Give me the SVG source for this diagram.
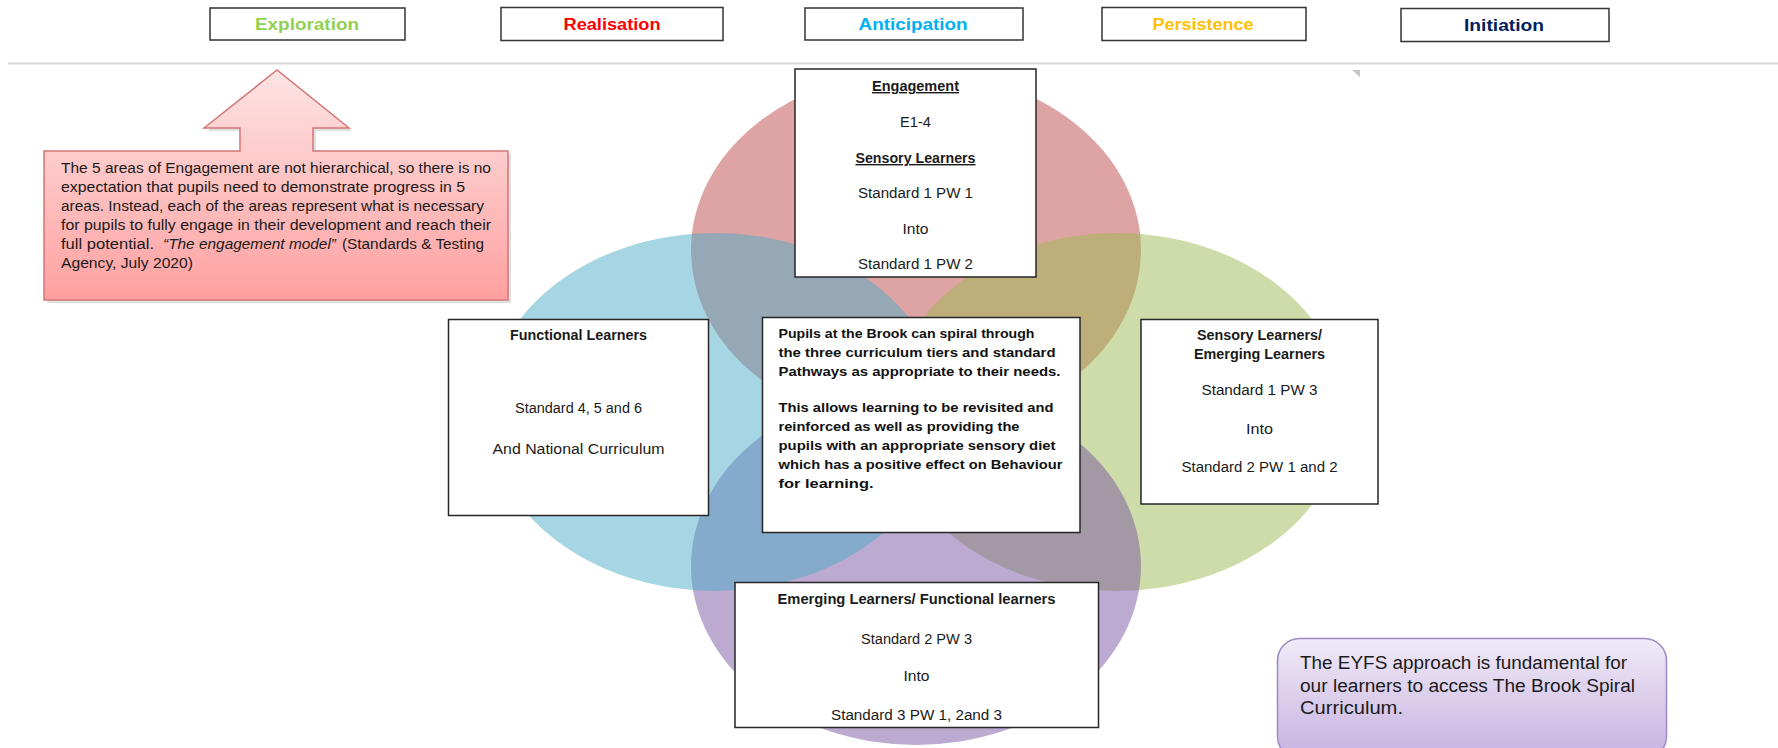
<svg xmlns="http://www.w3.org/2000/svg" width="1778" height="748" viewBox="0 0 1778 748">
<defs>
<style>
.box{fill:#ffffff;stroke:#262626;stroke-width:1.5}
.tb{fill:#ffffff;stroke:#333333;stroke-width:1.5}
.t{font-family:"Liberation Sans",Arial,sans-serif;font-size:14px;fill:#1a1a1a}
.b{font-weight:bold}
.c{text-anchor:middle}
.u{text-decoration:underline}
.lbl{font-family:"Liberation Sans",Arial,sans-serif;font-size:16px;font-weight:bold;text-anchor:middle}
.ctr{font-family:"Liberation Sans",Arial,sans-serif;font-size:13.5px;font-weight:bold;fill:#111}
.ey{font-family:"Liberation Sans",Arial,sans-serif;font-size:18px;fill:#1a1a1a}
.v{fill-opacity:0.5}
</style>
<linearGradient id="pinkGrad" x1="0" y1="0" x2="0" y2="1">
<stop offset="0" stop-color="#fde4e4"/>
<stop offset="1" stop-color="#ffa0a0"/>
</linearGradient>
<linearGradient id="lavGrad" x1="0" y1="0" x2="0" y2="1">
<stop offset="0" stop-color="#f0eaf8"/>
<stop offset="1" stop-color="#c6b2e0"/>
</linearGradient>
</defs>
<rect x="0" y="0" width="1778" height="748" fill="#ffffff"/>

<!-- top labels -->
<g id="node-exploration">
<rect class="tb" x="210" y="8" width="195" height="32"/>
<text class="lbl" x="307" y="30" fill="#92d050" textLength="104" lengthAdjust="spacingAndGlyphs">Exploration</text>
</g>
<g id="node-realisation">
<rect class="tb" x="501" y="7.5" width="222" height="33"/>
<text class="lbl" x="612" y="30" fill="#ff0000" textLength="97" lengthAdjust="spacingAndGlyphs">Realisation</text>
</g>
<g id="node-anticipation">
<rect class="tb" x="805" y="8" width="218" height="32"/>
<text class="lbl" x="913" y="30" fill="#00b0f0" textLength="109" lengthAdjust="spacingAndGlyphs">Anticipation</text>
</g>
<g id="node-persistence">
<rect class="tb" x="1102" y="7.5" width="204" height="33"/>
<text class="lbl" x="1203" y="30" fill="#ffc000" textLength="101" lengthAdjust="spacingAndGlyphs">Persistence</text>
</g>
<g id="node-initiation">
<rect class="tb" x="1401" y="8.5" width="208" height="33"/>
<text class="lbl" x="1504" y="31" fill="#002060" textLength="80" lengthAdjust="spacingAndGlyphs">Initiation</text>
</g>

<!-- divider -->
<line x1="8" y1="63.5" x2="1778" y2="63.5" stroke="#d9d9d9" stroke-width="2"/>
<polygon points="1352,70 1360,70 1360,77" fill="#c4c4c4"/>

<!-- venn -->
<g id="venn">
<ellipse class="v" cx="916" cy="250" rx="225" ry="179" fill="#bd4747"/>
<ellipse class="v" cx="1117" cy="412" rx="228" ry="179" fill="#9bb951"/>
<ellipse class="v" cx="916" cy="566" rx="225" ry="179" fill="#7955a1"/>
<ellipse class="v" cx="715" cy="412" rx="228" ry="179" fill="#4dabc7"/>
</g>

<g id="connectors"></g>

<!-- callout -->
<g id="node-callout">
<path d="M47,154 H243 V131 H207 L280,73 L352,131 H316 V154 H511 V303 H47 Z" fill="#000" fill-opacity="0.12"/>
<path d="M44,151 H240 V128 H204 L277,70 L349,128 H313 V151 H508 V300 H44 Z" fill="url(#pinkGrad)" stroke="#d47676" stroke-width="1.5"/>
<text class="t" x="61" y="173" textLength="430" lengthAdjust="spacingAndGlyphs">The 5 areas of Engagement are not hierarchical, so there is no</text>
<text class="t" x="61" y="192" textLength="404" lengthAdjust="spacingAndGlyphs">expectation that pupils need to demonstrate progress in 5</text>
<text class="t" x="61" y="211" textLength="423" lengthAdjust="spacingAndGlyphs">areas. Instead, each of the areas represent what is necessary</text>
<text class="t" x="61" y="230" textLength="430" lengthAdjust="spacingAndGlyphs">for pupils to fully engage in their development and reach their</text>
<text class="t" x="61" y="249" textLength="93" lengthAdjust="spacingAndGlyphs">full potential.</text>
<text class="t" x="163" y="249" font-style="italic" textLength="173" lengthAdjust="spacingAndGlyphs">“The engagement model”</text>
<text class="t" x="342" y="249" textLength="142" lengthAdjust="spacingAndGlyphs">(Standards &amp; Testing</text>
<text class="t" x="61" y="268" textLength="132" lengthAdjust="spacingAndGlyphs">Agency, July 2020)</text>
</g>

<!-- engagement -->
<g id="node-engagement">
<rect class="box" x="795" y="69" width="241" height="208"/>
<text class="t b c u" x="915.5" y="91" textLength="87" lengthAdjust="spacingAndGlyphs">Engagement</text>
<text class="t c" x="915.5" y="127" textLength="31" lengthAdjust="spacingAndGlyphs">E1-4</text>
<text class="t b c u" x="915.5" y="163" textLength="120" lengthAdjust="spacingAndGlyphs">Sensory Learners</text>
<text class="t c" x="915.5" y="198" textLength="115" lengthAdjust="spacingAndGlyphs">Standard 1 PW 1</text>
<text class="t c" x="915.5" y="234" textLength="26" lengthAdjust="spacingAndGlyphs">Into</text>
<text class="t c" x="915.5" y="269" textLength="115" lengthAdjust="spacingAndGlyphs">Standard 1 PW 2</text>
</g>

<!-- functional -->
<g id="node-functional">
<rect class="box" x="448.5" y="319.5" width="260" height="196"/>
<text class="t b c" x="578.5" y="340" textLength="137" lengthAdjust="spacingAndGlyphs">Functional Learners</text>
<text class="t c" x="578.5" y="413" textLength="127" lengthAdjust="spacingAndGlyphs">Standard 4, 5 and 6</text>
<text class="t c" x="578.5" y="454" textLength="172" lengthAdjust="spacingAndGlyphs">And National Curriculum</text>
</g>

<!-- centre -->
<g id="node-centre">
<rect class="box" x="762.5" y="317.5" width="317.5" height="215"/>
<text class="ctr" x="778.5" y="338" textLength="256" lengthAdjust="spacingAndGlyphs">Pupils at the Brook can spiral through</text>
<text class="ctr" x="778.5" y="357" textLength="277" lengthAdjust="spacingAndGlyphs">the three curriculum tiers and standard</text>
<text class="ctr" x="778.5" y="376" textLength="282" lengthAdjust="spacingAndGlyphs">Pathways as appropriate to their needs.</text>
<text class="ctr" x="778.5" y="412" textLength="275" lengthAdjust="spacingAndGlyphs">This allows learning to be revisited and</text>
<text class="ctr" x="778.5" y="431" textLength="241" lengthAdjust="spacingAndGlyphs">reinforced as well as providing the</text>
<text class="ctr" x="778.5" y="450" textLength="277" lengthAdjust="spacingAndGlyphs">pupils with an appropriate sensory diet</text>
<text class="ctr" x="778.5" y="469" textLength="284" lengthAdjust="spacingAndGlyphs">which has a positive effect on Behaviour</text>
<text class="ctr" x="778.5" y="488" textLength="95" lengthAdjust="spacingAndGlyphs">for learning.</text>
</g>

<!-- sensory / emerging -->
<g id="node-sensory">
<rect class="box" x="1141" y="319.5" width="237" height="184.5"/>
<text class="t b c" x="1259.5" y="340" textLength="125" lengthAdjust="spacingAndGlyphs">Sensory Learners/</text>
<text class="t b c" x="1259.5" y="358.5" textLength="131" lengthAdjust="spacingAndGlyphs">Emerging Learners</text>
<text class="t c" x="1259.5" y="395" textLength="116" lengthAdjust="spacingAndGlyphs">Standard 1 PW 3</text>
<text class="t c" x="1259.5" y="434" textLength="27" lengthAdjust="spacingAndGlyphs">Into</text>
<text class="t c" x="1259.5" y="472" textLength="156" lengthAdjust="spacingAndGlyphs">Standard 2 PW 1 and 2</text>
</g>

<!-- emerging / functional -->
<g id="node-emerging">
<rect class="box" x="735" y="582.5" width="363.5" height="145"/>
<text class="t b c" x="916.5" y="603.5" textLength="278" lengthAdjust="spacingAndGlyphs">Emerging Learners/ Functional learners</text>
<text class="t c" x="916.5" y="643.5" textLength="111" lengthAdjust="spacingAndGlyphs">Standard 2 PW 3</text>
<text class="t c" x="916.5" y="681" textLength="26" lengthAdjust="spacingAndGlyphs">Into</text>
<text class="t c" x="916.5" y="719.5" textLength="171" lengthAdjust="spacingAndGlyphs">Standard 3 PW 1, 2and 3</text>
</g>

<!-- EYFS -->
<g id="node-eyfs">
<rect x="1277.5" y="638.5" width="389" height="120" rx="22" ry="22" fill="url(#lavGrad)" stroke="#9d88c2" stroke-width="1.5"/>
<text class="ey" x="1300" y="669" textLength="327" lengthAdjust="spacingAndGlyphs">The EYFS approach is fundamental for</text>
<text class="ey" x="1300" y="691.5" textLength="335" lengthAdjust="spacingAndGlyphs">our learners to access The Brook Spiral</text>
<text class="ey" x="1300" y="714" textLength="103" lengthAdjust="spacingAndGlyphs">Curriculum.</text>
</g>
</svg>
